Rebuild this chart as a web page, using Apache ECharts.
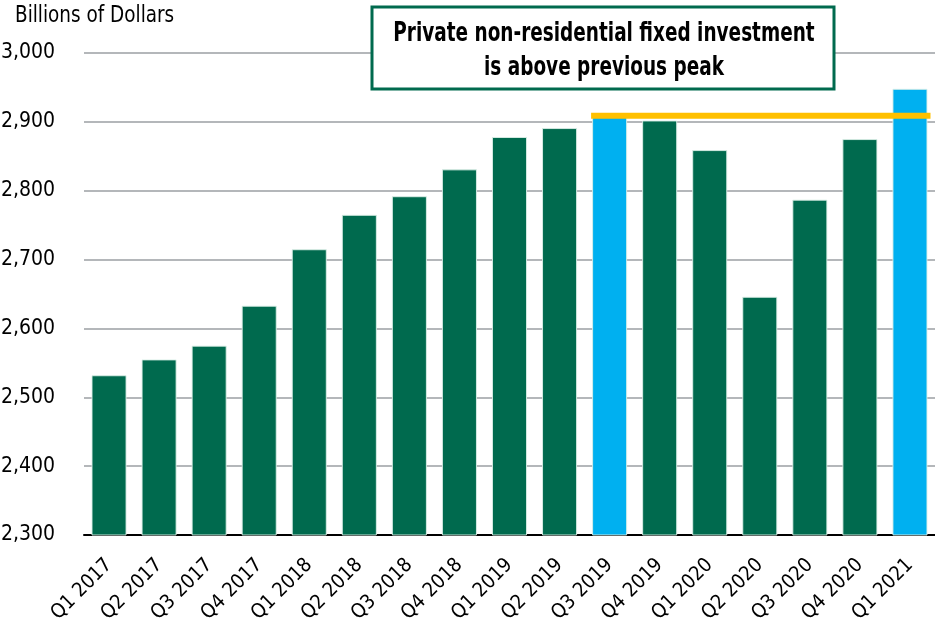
<!DOCTYPE html>
<html>
<head>
<meta charset="utf-8">
<title>Private non-residential fixed investment</title>
<script src="https://cdn.jsdelivr.net/npm/echarts@6/dist/echarts.min.js"></script>
<style>
	html, body {
		margin: 0;
		padding: 0;
		background: #fff;
	}
	#chart {
		width: 935px;
		height: 629px;
	}
</style>
</head>
<body>
<div id="chart"></div>
<script>
// quarters on the x axis
const categories = [
	'Q1 2017', 'Q2 2017', 'Q3 2017', 'Q4 2017',
	'Q1 2018', 'Q2 2018', 'Q3 2018', 'Q4 2018',
	'Q1 2019', 'Q2 2019', 'Q3 2019', 'Q4 2019',
	'Q1 2020', 'Q2 2020', 'Q3 2020', 'Q4 2020',
	'Q1 2021',
];
// billions of dollars
const investment = [
	2532, 2555, 2575, 2633,
	2715, 2765, 2792, 2831,
	2878, 2891, 2907, 2902,
	2859, 2646, 2787, 2875,
	2948,
];
const peakQuarters = ['Q3 2019', 'Q1 2021'];
const peakLevel = 2909;
const yTicks = [2300, 2400, 2500, 2600, 2700, 2800, 2900, 3000];

const GREEN = '#006A4E';
const BLUE = '#00B0F0';
const GOLD = '#FFC000';
const FONT = "'DejaVu Sans Condensed', 'DejaVu Sans', sans-serif";

const chart = echarts.init(document.getElementById('chart'), null, { renderer: 'canvas' });

const barData = investment.map((v, i) => ({
	value: v,
	itemStyle: { color: peakQuarters.includes(categories[i]) ? BLUE : GREEN },
}));

chart.setOption({
	animation: false,
	textStyle: { fontFamily: FONT },
	grid: {
		left: 84,
		right: 0,
		top: 53,
		bottom: 94,
		containLabel: false,
		outerBoundsMode: 'none',
	},
	xAxis: {
		type: 'category',
		data: categories,
		axisLine: { lineStyle: { color: '#000', width: 2 } },
		axisTick: { show: false },
		axisLabel: {
			rotate: 45,
			interval: 0,
			margin: 27,
			fontSize: 20,
			color: '#000',
			fontFamily: FONT,
		},
	},
	yAxis: {
		type: 'value',
		min: yTicks[0],
		max: yTicks[yTicks.length - 1],
		interval: 100,
		axisLine: { show: false },
		axisTick: { show: false },
		axisLabel: {
			margin: 29,
			fontSize: 21,
			color: '#000',
			fontFamily: FONT,
			formatter: (v) => v.toLocaleString('en-US'),
		},
		splitLine: { lineStyle: { color: '#b4b7ba', width: 2 } },
	},
	series: [
		{
			type: 'bar',
			data: barData,
			barCategoryGap: '30%',
			itemStyle: {
				borderColor: 'rgba(220, 240, 232, 0.9)',
				borderWidth: 1,
			},
			z: 2,
		},
		{
			// gold "previous peak" bar spanning from the first peak to the latest one
			type: 'custom',
			z: 5,
			clip: false,
			data: [[categories.indexOf(peakQuarters[0]), categories.indexOf(peakQuarters[1]), peakLevel]],
			encode: { x: [0, 1], y: 2 },
			renderItem(params, api) {
				const a = api.coord([api.value(0), api.value(2)]);
				const b = api.coord([api.value(1), api.value(2)]);
				const half = api.size([1, 0])[0] * 0.7 / 2;
				return {
					type: 'rect',
					shape: { x: a[0] - half - 1, y: a[1] - 3, width: b[0] - a[0] + half * 2 + 4, height: 6 },
					style: { fill: GOLD },
				};
			},
		},
	],
	graphic: [
		{
			// unit label, squeezed to mimic the condensed face of the original
			type: 'text',
			x: 15,
			y: 5,
			scaleX: 0.89,
			style: {
				text: 'Billions of Dollars',
				fontFamily: FONT,
				fontSize: 23,
				fill: '#000',
				verticalAlign: 'top',
			},
		},
		{
			type: 'rect',
			shape: { x: 372, y: 7, width: 462, height: 82 },
			style: { fill: '#fff', stroke: GREEN, lineWidth: 3 },
			z: 10,
		},
		{
			type: 'text',
			x: 604,
			y: 51,
			scaleX: 0.76,
			z: 11,
			style: {
				text: 'Private non-residential fixed investment\nis above previous peak',
				align: 'center',
				verticalAlign: 'middle',
				fontFamily: FONT,
				fontWeight: 'bold',
				fontSize: 27,
				lineHeight: 34,
				fill: '#000',
			},
		},
	],
});
</script>
</body>
</html>
